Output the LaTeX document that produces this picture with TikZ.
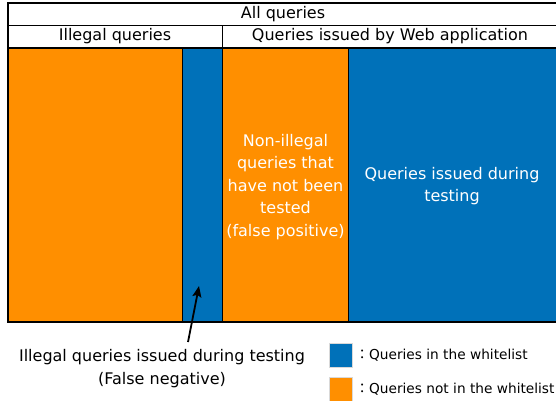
\documentclass[tikz,border=0pt]{standalone}
\usepackage{fontspec}
\setmainfont{DejaVu Sans}
\newfontfamily\cjk{Noto Sans CJK JP}
\usetikzlibrary{arrows.meta}
\definecolor{qorange}{RGB}{255,143,0}
\definecolor{qblue}{RGB}{0,113,185}
\tikzset{
  x=1pt, y=-1pt,
  band/.style={draw=black, line width=0.9pt},
  hdr/.style={font=\fontsize{16}{18}\selectfont, inner sep=0pt},
  inlbl/.style={font=\fontsize{16}{22.5}\selectfont, text=white, align=center, inner sep=0pt},
  outlbl/.style={font=\fontsize{16}{23.5}\selectfont, align=center, inner sep=0pt},
  leglbl/.style={font=\fontsize{13.7}{16}\selectfont, anchor=west, inner sep=0pt},
  swatch/.style={draw=white!85!black, line width=0.5pt, minimum width=23pt, minimum height=24pt, inner sep=0pt}
}
\begin{document}
\begin{tikzpicture}
\useasboundingbox (0,0) rectangle (556,400);
\clip (0,0) rectangle (556,400);
% header rows
\draw[line width=1.2pt] (8,3) rectangle (560,322);
\draw[line width=0.9pt] (8,25) -- (560,25);
\draw[line width=0.9pt] (222,25) -- (222,48);
\node[hdr] (all) at (283,14) {All queries};
\node[hdr] (ill) at (115,36.5) {Illegal queries};
\node[hdr] (web) at (390,36.5) {Queries issued by Web application};
% query bands
\filldraw[band, fill=qorange] (8,48) rectangle (182,322);
\filldraw[band, fill=qblue] (182,48) rectangle (222,322);
\filldraw[band, fill=qorange] (222,48) rectangle (348,322);
\filldraw[band, fill=qblue] (348,48) rectangle (560,322);
\draw[line width=1.2pt] (8,48) -- (560,48);
\draw[line width=1.6pt] (8,322) -- (560,322);
\node[inlbl] (fp) at (285.5,187) {Non-illegal\\queries that\\have not been\\tested\\(false positive)};
\node[inlbl] (tested) at (452,186) {Queries issued during\\testing};
% false negative label and pointer
\node[outlbl] (fn) at (162,368.5) {Illegal queries issued during testing\\(False negative)};
\coordinate (fnstart) at (188,342);
\coordinate (fnband) at (199,286);
\draw[line width=1.8pt, -{Stealth[length=11pt,width=9pt,inset=2pt]}] (fnstart) -- (fnband);
% legend
\node[swatch, fill=qblue] (kblue) at (340.5,355) {};
\node[swatch, fill=qorange] (korange) at (340.5,389) {};
\node[leglbl] (tblue) at ([xshift=3pt]kblue.east) {{\cjk ：}Queries in the whitelist};
\node[leglbl] (torange) at ([xshift=3pt]korange.east) {{\cjk ：}Queries not in the whitelist};
\end{tikzpicture}
\end{document}
